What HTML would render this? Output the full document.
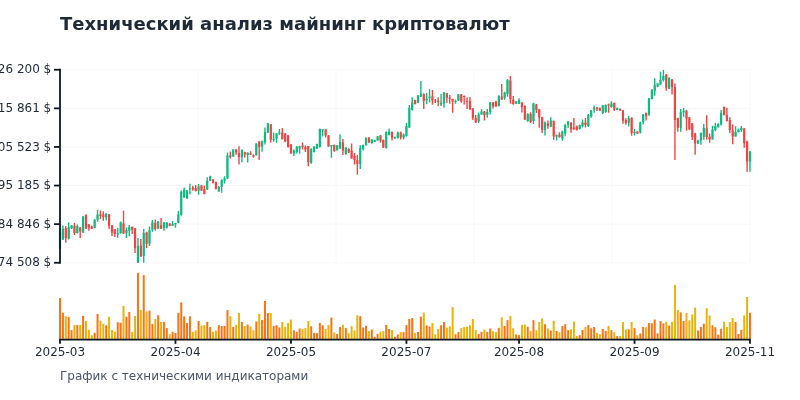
<!DOCTYPE html><html lang="ru"><head><meta charset="utf-8"><title>Технический анализ майнинг криптовалют</title>
<style>html,body{margin:0;padding:0;background:#fff}svg{display:block;will-change:transform}text{font-family:"DejaVu Sans","Liberation Sans",sans-serif}</style></head><body>
<svg width="800" height="400" viewBox="0 0 800 400">
<rect width="800" height="400" fill="#fff"/>
<text x="60" y="30" font-size="18" font-weight="bold" fill="#1f2937">Технический анализ майнинг криптовалют</text>
<g stroke="#f3f4f6" stroke-width="1" opacity="0.7"><line x1="60" x2="750" y1="69.75" y2="69.75"/><line x1="60" x2="750" y1="108.35" y2="108.35"/><line x1="60" x2="750" y1="146.95" y2="146.95"/><line x1="60" x2="750" y1="185.55" y2="185.55"/><line x1="60" x2="750" y1="224.15" y2="224.15"/><line x1="60" x2="750" y1="262.75" y2="262.75"/><line x1="60" x2="60" y1="69.75" y2="262.75"/><line x1="198" x2="198" y1="69.75" y2="262.75"/><line x1="336" x2="336" y1="69.75" y2="262.75"/><line x1="474" x2="474" y1="69.75" y2="262.75"/><line x1="612" x2="612" y1="69.75" y2="262.75"/><line x1="750" x2="750" y1="69.75" y2="262.75"/></g>
<g><rect x="59.00" y="298.00" width="2" height="41.75" fill="#f97316"/><rect x="61.89" y="312.75" width="2" height="27.00" fill="#f97316"/><rect x="64.77" y="316.25" width="2" height="23.50" fill="#eab308"/><rect x="67.66" y="317.00" width="2" height="22.75" fill="#f97316"/><rect x="70.55" y="330.10" width="2" height="9.65" fill="#f97316"/><rect x="73.44" y="325.00" width="2" height="14.75" fill="#eab308"/><rect x="76.32" y="325.10" width="2" height="14.65" fill="#f97316"/><rect x="79.21" y="325.00" width="2" height="14.75" fill="#eab308"/><rect x="82.10" y="315.90" width="2" height="23.85" fill="#f97316"/><rect x="84.98" y="321.00" width="2" height="18.75" fill="#eab308"/><rect x="87.87" y="329.60" width="2" height="10.15" fill="#eab308"/><rect x="90.76" y="335.25" width="2" height="4.50" fill="#eab308"/><rect x="93.64" y="332.75" width="2" height="7.00" fill="#f97316"/><rect x="96.53" y="314.00" width="2" height="25.75" fill="#f97316"/><rect x="99.42" y="320.60" width="2" height="19.15" fill="#eab308"/><rect x="102.31" y="324.00" width="2" height="15.75" fill="#eab308"/><rect x="105.19" y="325.25" width="2" height="14.50" fill="#f97316"/><rect x="108.08" y="316.75" width="2" height="23.00" fill="#eab308"/><rect x="110.97" y="330.00" width="2" height="9.75" fill="#eab308"/><rect x="113.85" y="331.60" width="2" height="8.15" fill="#eab308"/><rect x="116.74" y="322.25" width="2" height="17.50" fill="#f97316"/><rect x="119.63" y="322.75" width="2" height="17.00" fill="#f97316"/><rect x="122.51" y="305.90" width="2" height="33.85" fill="#eab308"/><rect x="125.40" y="316.75" width="2" height="23.00" fill="#f97316"/><rect x="128.29" y="312.00" width="2" height="27.75" fill="#f97316"/><rect x="131.18" y="332.00" width="2" height="7.75" fill="#eab308"/><rect x="134.06" y="316.00" width="2" height="23.75" fill="#eab308"/><rect x="136.95" y="272.80" width="2" height="66.95" fill="#f97316"/><rect x="139.84" y="309.90" width="2" height="29.85" fill="#eab308"/><rect x="142.72" y="275.20" width="2" height="64.55" fill="#f97316"/><rect x="145.61" y="311.50" width="2" height="28.25" fill="#eab308"/><rect x="148.50" y="310.60" width="2" height="29.15" fill="#f97316"/><rect x="151.38" y="324.10" width="2" height="15.65" fill="#f97316"/><rect x="154.27" y="319.00" width="2" height="20.75" fill="#eab308"/><rect x="157.16" y="315.25" width="2" height="24.50" fill="#f97316"/><rect x="160.05" y="322.00" width="2" height="17.75" fill="#eab308"/><rect x="162.93" y="322.00" width="2" height="17.75" fill="#f97316"/><rect x="165.82" y="328.10" width="2" height="11.65" fill="#f97316"/><rect x="168.71" y="334.25" width="2" height="5.50" fill="#eab308"/><rect x="171.59" y="331.75" width="2" height="8.00" fill="#f97316"/><rect x="174.48" y="333.00" width="2" height="6.75" fill="#f97316"/><rect x="177.37" y="312.75" width="2" height="27.00" fill="#f97316"/><rect x="180.26" y="302.40" width="2" height="37.35" fill="#f97316"/><rect x="183.14" y="316.50" width="2" height="23.25" fill="#f97316"/><rect x="186.03" y="323.00" width="2" height="16.75" fill="#f97316"/><rect x="188.92" y="316.25" width="2" height="23.50" fill="#f97316"/><rect x="191.80" y="332.00" width="2" height="7.75" fill="#eab308"/><rect x="194.69" y="330.25" width="2" height="9.50" fill="#eab308"/><rect x="197.58" y="321.00" width="2" height="18.75" fill="#f97316"/><rect x="200.46" y="325.50" width="2" height="14.25" fill="#eab308"/><rect x="203.35" y="325.10" width="2" height="14.65" fill="#eab308"/><rect x="206.24" y="321.75" width="2" height="18.00" fill="#f97316"/><rect x="209.13" y="327.10" width="2" height="12.65" fill="#f97316"/><rect x="212.01" y="331.75" width="2" height="8.00" fill="#eab308"/><rect x="214.90" y="330.50" width="2" height="9.25" fill="#eab308"/><rect x="217.79" y="325.10" width="2" height="14.65" fill="#f97316"/><rect x="220.67" y="326.10" width="2" height="13.65" fill="#f97316"/><rect x="223.56" y="325.90" width="2" height="13.85" fill="#f97316"/><rect x="226.45" y="310.10" width="2" height="29.65" fill="#f97316"/><rect x="229.33" y="316.25" width="2" height="23.50" fill="#eab308"/><rect x="232.22" y="327.00" width="2" height="12.75" fill="#f97316"/><rect x="235.11" y="324.60" width="2" height="15.15" fill="#eab308"/><rect x="238.00" y="313.00" width="2" height="26.75" fill="#eab308"/><rect x="240.88" y="322.00" width="2" height="17.75" fill="#f97316"/><rect x="243.77" y="326.00" width="2" height="13.75" fill="#eab308"/><rect x="246.66" y="324.60" width="2" height="15.15" fill="#f97316"/><rect x="249.54" y="326.50" width="2" height="13.25" fill="#eab308"/><rect x="252.43" y="330.25" width="2" height="9.50" fill="#eab308"/><rect x="255.32" y="321.50" width="2" height="18.25" fill="#f97316"/><rect x="258.21" y="314.00" width="2" height="25.75" fill="#eab308"/><rect x="261.09" y="319.90" width="2" height="19.85" fill="#f97316"/><rect x="263.98" y="300.90" width="2" height="38.85" fill="#f97316"/><rect x="266.87" y="313.00" width="2" height="26.75" fill="#f97316"/><rect x="269.75" y="313.00" width="2" height="26.75" fill="#eab308"/><rect x="272.64" y="325.90" width="2" height="13.85" fill="#f97316"/><rect x="275.53" y="325.10" width="2" height="14.65" fill="#f97316"/><rect x="278.41" y="327.50" width="2" height="12.25" fill="#f97316"/><rect x="281.30" y="322.00" width="2" height="17.75" fill="#eab308"/><rect x="284.19" y="326.75" width="2" height="13.00" fill="#eab308"/><rect x="287.08" y="323.00" width="2" height="16.75" fill="#eab308"/><rect x="289.96" y="319.60" width="2" height="20.15" fill="#eab308"/><rect x="292.85" y="330.25" width="2" height="9.50" fill="#f97316"/><rect x="295.74" y="331.90" width="2" height="7.85" fill="#f97316"/><rect x="298.62" y="328.50" width="2" height="11.25" fill="#f97316"/><rect x="301.51" y="329.00" width="2" height="10.75" fill="#eab308"/><rect x="304.40" y="328.10" width="2" height="11.65" fill="#eab308"/><rect x="307.28" y="321.00" width="2" height="18.75" fill="#eab308"/><rect x="310.17" y="326.25" width="2" height="13.50" fill="#f97316"/><rect x="313.06" y="332.90" width="2" height="6.85" fill="#f97316"/><rect x="315.95" y="333.10" width="2" height="6.65" fill="#f97316"/><rect x="318.83" y="323.00" width="2" height="16.75" fill="#f97316"/><rect x="321.72" y="325.40" width="2" height="14.35" fill="#f97316"/><rect x="324.61" y="329.00" width="2" height="10.75" fill="#eab308"/><rect x="327.49" y="325.00" width="2" height="14.75" fill="#eab308"/><rect x="330.38" y="317.60" width="2" height="22.15" fill="#f97316"/><rect x="333.27" y="332.40" width="2" height="7.35" fill="#eab308"/><rect x="336.15" y="334.00" width="2" height="5.75" fill="#f97316"/><rect x="339.04" y="327.10" width="2" height="12.65" fill="#f97316"/><rect x="341.93" y="324.75" width="2" height="15.00" fill="#eab308"/><rect x="344.82" y="328.10" width="2" height="11.65" fill="#f97316"/><rect x="347.70" y="333.25" width="2" height="6.50" fill="#eab308"/><rect x="350.59" y="326.10" width="2" height="13.65" fill="#eab308"/><rect x="353.48" y="330.50" width="2" height="9.25" fill="#eab308"/><rect x="356.36" y="315.25" width="2" height="24.50" fill="#eab308"/><rect x="359.25" y="316.25" width="2" height="23.50" fill="#f97316"/><rect x="362.14" y="327.50" width="2" height="12.25" fill="#f97316"/><rect x="365.03" y="325.75" width="2" height="14.00" fill="#f97316"/><rect x="367.91" y="331.00" width="2" height="8.75" fill="#eab308"/><rect x="370.80" y="329.50" width="2" height="10.25" fill="#f97316"/><rect x="373.69" y="337.00" width="2" height="2.75" fill="#f97316"/><rect x="376.57" y="334.00" width="2" height="5.75" fill="#f97316"/><rect x="379.46" y="331.75" width="2" height="8.00" fill="#eab308"/><rect x="382.35" y="331.10" width="2" height="8.65" fill="#eab308"/><rect x="385.23" y="325.00" width="2" height="14.75" fill="#f97316"/><rect x="388.12" y="329.00" width="2" height="10.75" fill="#f97316"/><rect x="391.01" y="330.00" width="2" height="9.75" fill="#eab308"/><rect x="393.90" y="336.75" width="2" height="3.00" fill="#f97316"/><rect x="396.78" y="334.50" width="2" height="5.25" fill="#f97316"/><rect x="399.67" y="332.10" width="2" height="7.65" fill="#eab308"/><rect x="402.56" y="332.10" width="2" height="7.65" fill="#f97316"/><rect x="405.44" y="325.10" width="2" height="14.65" fill="#f97316"/><rect x="408.33" y="318.90" width="2" height="20.85" fill="#f97316"/><rect x="411.22" y="318.00" width="2" height="21.75" fill="#f97316"/><rect x="414.10" y="332.90" width="2" height="6.85" fill="#eab308"/><rect x="416.99" y="332.00" width="2" height="7.75" fill="#f97316"/><rect x="419.88" y="316.75" width="2" height="23.00" fill="#f97316"/><rect x="422.77" y="312.60" width="2" height="27.15" fill="#eab308"/><rect x="425.65" y="325.40" width="2" height="14.35" fill="#f97316"/><rect x="428.54" y="326.50" width="2" height="13.25" fill="#f97316"/><rect x="431.43" y="323.00" width="2" height="16.75" fill="#eab308"/><rect x="434.31" y="334.25" width="2" height="5.50" fill="#eab308"/><rect x="437.20" y="329.00" width="2" height="10.75" fill="#eab308"/><rect x="440.09" y="325.25" width="2" height="14.50" fill="#f97316"/><rect x="442.97" y="322.00" width="2" height="17.75" fill="#f97316"/><rect x="445.86" y="327.60" width="2" height="12.15" fill="#eab308"/><rect x="448.75" y="326.25" width="2" height="13.50" fill="#eab308"/><rect x="451.64" y="307.10" width="2" height="32.65" fill="#eab308"/><rect x="454.52" y="334.25" width="2" height="5.50" fill="#f97316"/><rect x="457.41" y="332.10" width="2" height="7.65" fill="#f97316"/><rect x="460.30" y="328.10" width="2" height="11.65" fill="#eab308"/><rect x="463.18" y="327.10" width="2" height="12.65" fill="#eab308"/><rect x="466.07" y="326.75" width="2" height="13.00" fill="#eab308"/><rect x="468.96" y="325.25" width="2" height="14.50" fill="#eab308"/><rect x="471.85" y="319.00" width="2" height="20.75" fill="#eab308"/><rect x="474.73" y="330.10" width="2" height="9.65" fill="#eab308"/><rect x="477.62" y="334.00" width="2" height="5.75" fill="#f97316"/><rect x="480.51" y="331.90" width="2" height="7.85" fill="#f97316"/><rect x="483.39" y="329.60" width="2" height="10.15" fill="#eab308"/><rect x="486.28" y="331.90" width="2" height="7.85" fill="#f97316"/><rect x="489.17" y="328.50" width="2" height="11.25" fill="#f97316"/><rect x="492.05" y="331.25" width="2" height="8.50" fill="#eab308"/><rect x="494.94" y="332.10" width="2" height="7.65" fill="#eab308"/><rect x="497.83" y="327.90" width="2" height="11.85" fill="#f97316"/><rect x="500.72" y="317.25" width="2" height="22.50" fill="#eab308"/><rect x="503.60" y="326.00" width="2" height="13.75" fill="#f97316"/><rect x="506.49" y="320.10" width="2" height="19.65" fill="#f97316"/><rect x="509.38" y="316.00" width="2" height="23.75" fill="#eab308"/><rect x="512.26" y="328.25" width="2" height="11.50" fill="#eab308"/><rect x="515.15" y="334.50" width="2" height="5.25" fill="#f97316"/><rect x="518.04" y="335.10" width="2" height="4.65" fill="#f97316"/><rect x="520.92" y="325.00" width="2" height="14.75" fill="#eab308"/><rect x="523.81" y="324.50" width="2" height="15.25" fill="#eab308"/><rect x="526.70" y="326.75" width="2" height="13.00" fill="#f97316"/><rect x="529.59" y="331.00" width="2" height="8.75" fill="#eab308"/><rect x="532.47" y="320.10" width="2" height="19.65" fill="#f97316"/><rect x="535.36" y="330.25" width="2" height="9.50" fill="#eab308"/><rect x="538.25" y="322.00" width="2" height="17.75" fill="#eab308"/><rect x="541.13" y="318.40" width="2" height="21.35" fill="#eab308"/><rect x="544.02" y="324.25" width="2" height="15.50" fill="#f97316"/><rect x="546.91" y="328.50" width="2" height="11.25" fill="#eab308"/><rect x="549.79" y="330.50" width="2" height="9.25" fill="#f97316"/><rect x="552.68" y="320.75" width="2" height="19.00" fill="#eab308"/><rect x="555.57" y="331.00" width="2" height="8.75" fill="#f97316"/><rect x="558.46" y="332.25" width="2" height="7.50" fill="#eab308"/><rect x="561.34" y="326.10" width="2" height="13.65" fill="#f97316"/><rect x="564.23" y="324.10" width="2" height="15.65" fill="#f97316"/><rect x="567.12" y="330.10" width="2" height="9.65" fill="#f97316"/><rect x="570.00" y="329.40" width="2" height="10.35" fill="#eab308"/><rect x="572.89" y="321.50" width="2" height="18.25" fill="#eab308"/><rect x="575.78" y="336.00" width="2" height="3.75" fill="#eab308"/><rect x="578.67" y="335.10" width="2" height="4.65" fill="#f97316"/><rect x="581.55" y="330.00" width="2" height="9.75" fill="#f97316"/><rect x="584.44" y="327.00" width="2" height="12.75" fill="#eab308"/><rect x="587.33" y="325.10" width="2" height="14.65" fill="#f97316"/><rect x="590.21" y="328.25" width="2" height="11.50" fill="#f97316"/><rect x="593.10" y="327.00" width="2" height="12.75" fill="#f97316"/><rect x="595.99" y="333.00" width="2" height="6.75" fill="#eab308"/><rect x="598.87" y="334.25" width="2" height="5.50" fill="#eab308"/><rect x="601.76" y="329.00" width="2" height="10.75" fill="#f97316"/><rect x="604.65" y="331.00" width="2" height="8.75" fill="#f97316"/><rect x="607.54" y="325.90" width="2" height="13.85" fill="#eab308"/><rect x="610.42" y="330.10" width="2" height="9.65" fill="#f97316"/><rect x="613.31" y="332.25" width="2" height="7.50" fill="#eab308"/><rect x="616.20" y="336.10" width="2" height="3.65" fill="#f97316"/><rect x="619.08" y="336.10" width="2" height="3.65" fill="#eab308"/><rect x="621.97" y="322.10" width="2" height="17.65" fill="#eab308"/><rect x="624.86" y="329.40" width="2" height="10.35" fill="#eab308"/><rect x="627.74" y="329.25" width="2" height="10.50" fill="#f97316"/><rect x="630.63" y="322.00" width="2" height="17.75" fill="#eab308"/><rect x="633.52" y="328.00" width="2" height="11.75" fill="#f97316"/><rect x="636.41" y="335.25" width="2" height="4.50" fill="#eab308"/><rect x="639.29" y="333.50" width="2" height="6.25" fill="#f97316"/><rect x="642.18" y="327.00" width="2" height="12.75" fill="#f97316"/><rect x="645.07" y="327.25" width="2" height="12.50" fill="#eab308"/><rect x="647.95" y="323.00" width="2" height="16.75" fill="#f97316"/><rect x="650.84" y="323.25" width="2" height="16.50" fill="#f97316"/><rect x="653.73" y="319.50" width="2" height="20.25" fill="#f97316"/><rect x="656.62" y="333.25" width="2" height="6.50" fill="#f97316"/><rect x="659.50" y="321.10" width="2" height="18.65" fill="#f97316"/><rect x="662.39" y="323.50" width="2" height="16.25" fill="#f97316"/><rect x="665.28" y="321.75" width="2" height="18.00" fill="#eab308"/><rect x="668.16" y="325.50" width="2" height="14.25" fill="#f97316"/><rect x="671.05" y="321.75" width="2" height="18.00" fill="#eab308"/><rect x="673.94" y="285.00" width="2" height="54.75" fill="#eab308"/><rect x="676.82" y="309.90" width="2" height="29.85" fill="#eab308"/><rect x="679.71" y="312.40" width="2" height="27.35" fill="#f97316"/><rect x="682.60" y="321.00" width="2" height="18.75" fill="#f97316"/><rect x="685.49" y="313.00" width="2" height="26.75" fill="#eab308"/><rect x="688.37" y="320.25" width="2" height="19.50" fill="#eab308"/><rect x="691.26" y="314.50" width="2" height="25.25" fill="#eab308"/><rect x="694.15" y="307.60" width="2" height="32.15" fill="#eab308"/><rect x="697.03" y="330.50" width="2" height="9.25" fill="#f97316"/><rect x="699.92" y="327.00" width="2" height="12.75" fill="#f97316"/><rect x="702.81" y="323.75" width="2" height="16.00" fill="#f97316"/><rect x="705.69" y="308.25" width="2" height="31.50" fill="#eab308"/><rect x="708.58" y="315.50" width="2" height="24.25" fill="#eab308"/><rect x="711.47" y="325.25" width="2" height="14.50" fill="#f97316"/><rect x="714.36" y="327.25" width="2" height="12.50" fill="#f97316"/><rect x="717.24" y="334.75" width="2" height="5.00" fill="#f97316"/><rect x="720.13" y="328.75" width="2" height="11.00" fill="#f97316"/><rect x="723.02" y="321.75" width="2" height="18.00" fill="#eab308"/><rect x="725.90" y="327.00" width="2" height="12.75" fill="#eab308"/><rect x="728.79" y="322.10" width="2" height="17.65" fill="#eab308"/><rect x="731.68" y="318.00" width="2" height="21.75" fill="#eab308"/><rect x="734.56" y="322.00" width="2" height="17.75" fill="#f97316"/><rect x="737.45" y="334.00" width="2" height="5.75" fill="#f97316"/><rect x="740.34" y="329.75" width="2" height="10.00" fill="#f97316"/><rect x="743.23" y="315.50" width="2" height="24.25" fill="#eab308"/><rect x="746.11" y="297.00" width="2" height="42.75" fill="#eab308"/><rect x="749.00" y="312.75" width="2" height="27.00" fill="#f97316"/></g>
<clipPath id="cp"><rect x="58" y="69.75" width="694" height="193.0"/></clipPath>
<g clip-path="url(#cp)"><g stroke-width="1.4"><line x1="60.00" x2="60.00" y1="229.00" y2="249.00" stroke="#10b981"/><line x1="62.89" x2="62.89" y1="225.50" y2="240.00" stroke="#10b981"/><line x1="65.77" x2="65.77" y1="226.00" y2="242.80" stroke="#ef4444"/><line x1="68.66" x2="68.66" y1="222.50" y2="239.50" stroke="#10b981"/><line x1="71.55" x2="71.55" y1="225.00" y2="229.00" stroke="#10b981"/><line x1="74.44" x2="74.44" y1="223.00" y2="235.00" stroke="#ef4444"/><line x1="77.32" x2="77.32" y1="224.50" y2="233.50" stroke="#10b981"/><line x1="80.21" x2="80.21" y1="227.00" y2="238.00" stroke="#ef4444"/><line x1="83.10" x2="83.10" y1="216.00" y2="233.00" stroke="#10b981"/><line x1="85.98" x2="85.98" y1="214.20" y2="229.00" stroke="#ef4444"/><line x1="88.87" x2="88.87" y1="224.00" y2="230.80" stroke="#ef4444"/><line x1="91.76" x2="91.76" y1="225.50" y2="229.00" stroke="#ef4444"/><line x1="94.64" x2="94.64" y1="219.20" y2="228.20" stroke="#10b981"/><line x1="97.53" x2="97.53" y1="209.75" y2="221.80" stroke="#10b981"/><line x1="100.42" x2="100.42" y1="210.50" y2="219.00" stroke="#ef4444"/><line x1="103.31" x2="103.31" y1="211.20" y2="220.80" stroke="#ef4444"/><line x1="106.19" x2="106.19" y1="213.00" y2="220.50" stroke="#10b981"/><line x1="109.08" x2="109.08" y1="214.00" y2="229.00" stroke="#ef4444"/><line x1="111.97" x2="111.97" y1="225.00" y2="236.00" stroke="#ef4444"/><line x1="114.85" x2="114.85" y1="229.00" y2="237.00" stroke="#ef4444"/><line x1="117.74" x2="117.74" y1="227.80" y2="237.80" stroke="#10b981"/><line x1="120.63" x2="120.63" y1="221.50" y2="233.50" stroke="#10b981"/><line x1="123.51" x2="123.51" y1="210.80" y2="234.00" stroke="#ef4444"/><line x1="126.40" x2="126.40" y1="227.50" y2="238.00" stroke="#10b981"/><line x1="129.29" x2="129.29" y1="225.00" y2="236.20" stroke="#10b981"/><line x1="132.18" x2="132.18" y1="226.50" y2="234.00" stroke="#ef4444"/><line x1="135.06" x2="135.06" y1="228.00" y2="253.00" stroke="#ef4444"/><line x1="137.95" x2="137.95" y1="238.00" y2="263.00" stroke="#10b981"/><line x1="140.84" x2="140.84" y1="239.00" y2="256.80" stroke="#ef4444"/><line x1="143.72" x2="143.72" y1="229.00" y2="263.00" stroke="#10b981"/><line x1="146.61" x2="146.61" y1="231.80" y2="248.00" stroke="#ef4444"/><line x1="149.50" x2="149.50" y1="226.50" y2="246.00" stroke="#10b981"/><line x1="152.38" x2="152.38" y1="220.00" y2="231.80" stroke="#10b981"/><line x1="155.27" x2="155.27" y1="219.50" y2="230.80" stroke="#ef4444"/><line x1="158.16" x2="158.16" y1="221.00" y2="229.00" stroke="#10b981"/><line x1="161.05" x2="161.05" y1="218.00" y2="229.00" stroke="#ef4444"/><line x1="163.93" x2="163.93" y1="222.00" y2="230.80" stroke="#10b981"/><line x1="166.82" x2="166.82" y1="222.00" y2="228.50" stroke="#10b981"/><line x1="169.71" x2="169.71" y1="223.20" y2="226.20" stroke="#ef4444"/><line x1="172.59" x2="172.59" y1="221.00" y2="226.00" stroke="#10b981"/><line x1="175.48" x2="175.48" y1="222.80" y2="227.80" stroke="#10b981"/><line x1="178.37" x2="178.37" y1="211.00" y2="223.20" stroke="#10b981"/><line x1="181.26" x2="181.26" y1="190.50" y2="215.80" stroke="#10b981"/><line x1="184.14" x2="184.14" y1="187.50" y2="197.80" stroke="#10b981"/><line x1="187.03" x2="187.03" y1="190.00" y2="198.80" stroke="#10b981"/><line x1="189.92" x2="189.92" y1="183.80" y2="194.50" stroke="#10b981"/><line x1="192.80" x2="192.80" y1="185.80" y2="190.80" stroke="#ef4444"/><line x1="195.69" x2="195.69" y1="185.00" y2="191.50" stroke="#ef4444"/><line x1="198.58" x2="198.58" y1="184.00" y2="194.80" stroke="#10b981"/><line x1="201.46" x2="201.46" y1="184.80" y2="191.00" stroke="#ef4444"/><line x1="204.35" x2="204.35" y1="185.50" y2="194.20" stroke="#ef4444"/><line x1="207.24" x2="207.24" y1="177.20" y2="190.00" stroke="#10b981"/><line x1="210.13" x2="210.13" y1="175.80" y2="181.00" stroke="#10b981"/><line x1="213.01" x2="213.01" y1="179.00" y2="183.50" stroke="#ef4444"/><line x1="215.90" x2="215.90" y1="181.50" y2="189.50" stroke="#ef4444"/><line x1="218.79" x2="218.79" y1="186.00" y2="191.80" stroke="#10b981"/><line x1="221.67" x2="221.67" y1="179.20" y2="192.80" stroke="#10b981"/><line x1="224.56" x2="224.56" y1="176.20" y2="183.50" stroke="#10b981"/><line x1="227.45" x2="227.45" y1="152.50" y2="179.00" stroke="#10b981"/><line x1="230.33" x2="230.33" y1="151.50" y2="158.50" stroke="#ef4444"/><line x1="233.22" x2="233.22" y1="149.20" y2="156.80" stroke="#10b981"/><line x1="236.11" x2="236.11" y1="149.20" y2="154.80" stroke="#ef4444"/><line x1="239.00" x2="239.00" y1="146.20" y2="164.50" stroke="#ef4444"/><line x1="241.88" x2="241.88" y1="149.50" y2="162.20" stroke="#10b981"/><line x1="244.77" x2="244.77" y1="151.80" y2="157.50" stroke="#ef4444"/><line x1="247.66" x2="247.66" y1="152.20" y2="162.50" stroke="#10b981"/><line x1="250.54" x2="250.54" y1="151.20" y2="155.00" stroke="#ef4444"/><line x1="253.43" x2="253.43" y1="154.20" y2="157.80" stroke="#ef4444"/><line x1="256.32" x2="256.32" y1="143.20" y2="155.80" stroke="#10b981"/><line x1="259.21" x2="259.21" y1="141.00" y2="160.00" stroke="#ef4444"/><line x1="262.09" x2="262.09" y1="140.50" y2="151.80" stroke="#10b981"/><line x1="264.98" x2="264.98" y1="127.50" y2="144.50" stroke="#10b981"/><line x1="267.87" x2="267.87" y1="123.00" y2="133.00" stroke="#10b981"/><line x1="270.75" x2="270.75" y1="124.00" y2="142.50" stroke="#ef4444"/><line x1="273.64" x2="273.64" y1="132.50" y2="141.80" stroke="#10b981"/><line x1="276.53" x2="276.53" y1="133.00" y2="142.80" stroke="#10b981"/><line x1="279.41" x2="279.41" y1="129.00" y2="135.00" stroke="#10b981"/><line x1="282.30" x2="282.30" y1="128.00" y2="139.50" stroke="#ef4444"/><line x1="285.19" x2="285.19" y1="133.00" y2="142.20" stroke="#ef4444"/><line x1="288.08" x2="288.08" y1="135.00" y2="147.50" stroke="#ef4444"/><line x1="290.96" x2="290.96" y1="144.00" y2="153.80" stroke="#ef4444"/><line x1="293.85" x2="293.85" y1="149.50" y2="156.00" stroke="#10b981"/><line x1="296.74" x2="296.74" y1="146.20" y2="153.50" stroke="#10b981"/><line x1="299.62" x2="299.62" y1="145.80" y2="153.80" stroke="#10b981"/><line x1="302.51" x2="302.51" y1="142.50" y2="149.50" stroke="#ef4444"/><line x1="305.40" x2="305.40" y1="145.50" y2="152.00" stroke="#ef4444"/><line x1="308.28" x2="308.28" y1="146.00" y2="166.20" stroke="#ef4444"/><line x1="311.17" x2="311.17" y1="148.20" y2="163.80" stroke="#10b981"/><line x1="314.06" x2="314.06" y1="146.20" y2="152.50" stroke="#10b981"/><line x1="316.95" x2="316.95" y1="143.80" y2="149.00" stroke="#10b981"/><line x1="319.83" x2="319.83" y1="128.50" y2="147.50" stroke="#10b981"/><line x1="322.72" x2="322.72" y1="129.20" y2="136.50" stroke="#10b981"/><line x1="325.61" x2="325.61" y1="129.20" y2="137.50" stroke="#ef4444"/><line x1="328.49" x2="328.49" y1="135.00" y2="146.80" stroke="#ef4444"/><line x1="331.38" x2="331.38" y1="145.00" y2="157.80" stroke="#10b981"/><line x1="334.27" x2="334.27" y1="144.50" y2="151.80" stroke="#ef4444"/><line x1="337.15" x2="337.15" y1="145.00" y2="150.80" stroke="#10b981"/><line x1="340.04" x2="340.04" y1="134.50" y2="148.80" stroke="#10b981"/><line x1="342.93" x2="342.93" y1="139.00" y2="155.00" stroke="#ef4444"/><line x1="345.82" x2="345.82" y1="147.20" y2="154.80" stroke="#10b981"/><line x1="348.70" x2="348.70" y1="148.20" y2="153.00" stroke="#ef4444"/><line x1="351.59" x2="351.59" y1="143.50" y2="158.80" stroke="#ef4444"/><line x1="354.48" x2="354.48" y1="153.00" y2="164.50" stroke="#ef4444"/><line x1="357.36" x2="357.36" y1="155.00" y2="174.50" stroke="#ef4444"/><line x1="360.25" x2="360.25" y1="145.20" y2="169.00" stroke="#10b981"/><line x1="363.14" x2="363.14" y1="144.50" y2="150.50" stroke="#10b981"/><line x1="366.03" x2="366.03" y1="137.20" y2="145.80" stroke="#10b981"/><line x1="368.91" x2="368.91" y1="137.20" y2="143.00" stroke="#ef4444"/><line x1="371.80" x2="371.80" y1="139.00" y2="143.80" stroke="#10b981"/><line x1="374.69" x2="374.69" y1="139.80" y2="142.00" stroke="#10b981"/><line x1="377.57" x2="377.57" y1="136.00" y2="140.80" stroke="#10b981"/><line x1="380.46" x2="380.46" y1="135.00" y2="142.50" stroke="#ef4444"/><line x1="383.35" x2="383.35" y1="139.50" y2="148.00" stroke="#ef4444"/><line x1="386.23" x2="386.23" y1="131.50" y2="148.50" stroke="#10b981"/><line x1="389.12" x2="389.12" y1="128.50" y2="135.50" stroke="#10b981"/><line x1="392.01" x2="392.01" y1="131.50" y2="140.50" stroke="#ef4444"/><line x1="394.90" x2="394.90" y1="136.50" y2="138.80" stroke="#10b981"/><line x1="397.78" x2="397.78" y1="131.50" y2="138.50" stroke="#10b981"/><line x1="400.67" x2="400.67" y1="131.50" y2="139.50" stroke="#ef4444"/><line x1="403.56" x2="403.56" y1="133.50" y2="139.50" stroke="#10b981"/><line x1="406.44" x2="406.44" y1="123.00" y2="136.50" stroke="#10b981"/><line x1="409.33" x2="409.33" y1="105.00" y2="128.00" stroke="#10b981"/><line x1="412.22" x2="412.22" y1="97.20" y2="110.50" stroke="#10b981"/><line x1="415.10" x2="415.10" y1="99.80" y2="104.50" stroke="#ef4444"/><line x1="417.99" x2="417.99" y1="95.00" y2="103.20" stroke="#10b981"/><line x1="420.88" x2="420.88" y1="81.00" y2="96.80" stroke="#10b981"/><line x1="423.77" x2="423.77" y1="93.20" y2="109.00" stroke="#ef4444"/><line x1="426.65" x2="426.65" y1="93.00" y2="104.00" stroke="#10b981"/><line x1="429.54" x2="429.54" y1="89.20" y2="102.50" stroke="#10b981"/><line x1="432.43" x2="432.43" y1="90.00" y2="104.80" stroke="#ef4444"/><line x1="435.31" x2="435.31" y1="99.00" y2="103.00" stroke="#ef4444"/><line x1="438.20" x2="438.20" y1="97.20" y2="106.20" stroke="#ef4444"/><line x1="441.09" x2="441.09" y1="94.00" y2="106.00" stroke="#10b981"/><line x1="443.97" x2="443.97" y1="92.00" y2="107.80" stroke="#10b981"/><line x1="446.86" x2="446.86" y1="92.80" y2="103.00" stroke="#ef4444"/><line x1="449.75" x2="449.75" y1="95.00" y2="103.80" stroke="#ef4444"/><line x1="452.64" x2="452.64" y1="98.80" y2="112.80" stroke="#ef4444"/><line x1="455.52" x2="455.52" y1="99.50" y2="103.80" stroke="#10b981"/><line x1="458.41" x2="458.41" y1="94.00" y2="101.00" stroke="#10b981"/><line x1="461.30" x2="461.30" y1="94.00" y2="102.80" stroke="#ef4444"/><line x1="464.18" x2="464.18" y1="95.50" y2="104.50" stroke="#ef4444"/><line x1="467.07" x2="467.07" y1="97.50" y2="109.00" stroke="#ef4444"/><line x1="469.96" x2="469.96" y1="97.00" y2="109.80" stroke="#ef4444"/><line x1="472.85" x2="472.85" y1="108.00" y2="120.00" stroke="#ef4444"/><line x1="475.73" x2="475.73" y1="115.00" y2="123.00" stroke="#ef4444"/><line x1="478.62" x2="478.62" y1="112.50" y2="123.00" stroke="#10b981"/><line x1="481.51" x2="481.51" y1="109.00" y2="114.80" stroke="#10b981"/><line x1="484.39" x2="484.39" y1="111.00" y2="120.50" stroke="#ef4444"/><line x1="487.28" x2="487.28" y1="109.00" y2="117.80" stroke="#10b981"/><line x1="490.17" x2="490.17" y1="102.00" y2="114.50" stroke="#10b981"/><line x1="493.05" x2="493.05" y1="102.00" y2="108.50" stroke="#ef4444"/><line x1="495.94" x2="495.94" y1="100.80" y2="106.80" stroke="#ef4444"/><line x1="498.83" x2="498.83" y1="95.20" y2="106.50" stroke="#10b981"/><line x1="501.72" x2="501.72" y1="84.00" y2="100.00" stroke="#ef4444"/><line x1="504.60" x2="504.60" y1="91.80" y2="99.80" stroke="#10b981"/><line x1="507.49" x2="507.49" y1="79.00" y2="96.80" stroke="#10b981"/><line x1="510.38" x2="510.38" y1="76.00" y2="103.80" stroke="#ef4444"/><line x1="513.26" x2="513.26" y1="96.00" y2="104.80" stroke="#ef4444"/><line x1="516.15" x2="516.15" y1="101.00" y2="103.80" stroke="#10b981"/><line x1="519.04" x2="519.04" y1="98.20" y2="103.80" stroke="#10b981"/><line x1="521.92" x2="521.92" y1="102.20" y2="112.50" stroke="#ef4444"/><line x1="524.81" x2="524.81" y1="105.20" y2="120.00" stroke="#ef4444"/><line x1="527.70" x2="527.70" y1="113.20" y2="121.80" stroke="#10b981"/><line x1="530.59" x2="530.59" y1="112.20" y2="122.80" stroke="#ef4444"/><line x1="533.47" x2="533.47" y1="102.80" y2="124.00" stroke="#10b981"/><line x1="536.36" x2="536.36" y1="104.00" y2="113.00" stroke="#ef4444"/><line x1="539.25" x2="539.25" y1="109.00" y2="127.80" stroke="#ef4444"/><line x1="542.13" x2="542.13" y1="116.80" y2="133.00" stroke="#ef4444"/><line x1="545.02" x2="545.02" y1="121.50" y2="135.50" stroke="#10b981"/><line x1="547.91" x2="547.91" y1="120.50" y2="128.80" stroke="#ef4444"/><line x1="550.79" x2="550.79" y1="117.20" y2="127.00" stroke="#10b981"/><line x1="553.68" x2="553.68" y1="120.50" y2="139.80" stroke="#ef4444"/><line x1="556.57" x2="556.57" y1="134.50" y2="140.50" stroke="#10b981"/><line x1="559.46" x2="559.46" y1="132.20" y2="137.80" stroke="#ef4444"/><line x1="562.34" x2="562.34" y1="130.80" y2="140.80" stroke="#10b981"/><line x1="565.23" x2="565.23" y1="124.00" y2="136.20" stroke="#10b981"/><line x1="568.12" x2="568.12" y1="121.00" y2="128.00" stroke="#10b981"/><line x1="571.00" x2="571.00" y1="122.00" y2="132.80" stroke="#ef4444"/><line x1="573.89" x2="573.89" y1="118.00" y2="129.50" stroke="#ef4444"/><line x1="576.78" x2="576.78" y1="125.50" y2="130.50" stroke="#ef4444"/><line x1="579.67" x2="579.67" y1="124.50" y2="129.50" stroke="#10b981"/><line x1="582.55" x2="582.55" y1="119.50" y2="127.50" stroke="#10b981"/><line x1="585.44" x2="585.44" y1="118.00" y2="127.50" stroke="#ef4444"/><line x1="588.33" x2="588.33" y1="114.00" y2="127.00" stroke="#10b981"/><line x1="591.21" x2="591.21" y1="110.00" y2="117.80" stroke="#10b981"/><line x1="594.10" x2="594.10" y1="105.50" y2="112.80" stroke="#10b981"/><line x1="596.99" x2="596.99" y1="107.00" y2="111.00" stroke="#ef4444"/><line x1="599.87" x2="599.87" y1="107.50" y2="111.00" stroke="#ef4444"/><line x1="602.76" x2="602.76" y1="105.00" y2="114.00" stroke="#10b981"/><line x1="605.65" x2="605.65" y1="104.50" y2="112.80" stroke="#10b981"/><line x1="608.54" x2="608.54" y1="103.50" y2="112.80" stroke="#ef4444"/><line x1="611.42" x2="611.42" y1="101.20" y2="107.80" stroke="#10b981"/><line x1="614.31" x2="614.31" y1="102.80" y2="111.00" stroke="#ef4444"/><line x1="617.20" x2="617.20" y1="107.50" y2="110.20" stroke="#10b981"/><line x1="620.08" x2="620.08" y1="108.50" y2="110.80" stroke="#ef4444"/><line x1="622.97" x2="622.97" y1="110.00" y2="123.80" stroke="#ef4444"/><line x1="625.86" x2="625.86" y1="118.20" y2="124.80" stroke="#ef4444"/><line x1="628.74" x2="628.74" y1="115.80" y2="126.50" stroke="#10b981"/><line x1="631.63" x2="631.63" y1="117.20" y2="135.80" stroke="#ef4444"/><line x1="634.52" x2="634.52" y1="129.00" y2="135.50" stroke="#10b981"/><line x1="637.41" x2="637.41" y1="131.20" y2="133.80" stroke="#ef4444"/><line x1="640.29" x2="640.29" y1="121.80" y2="133.50" stroke="#10b981"/><line x1="643.18" x2="643.18" y1="114.00" y2="124.50" stroke="#10b981"/><line x1="646.07" x2="646.07" y1="112.50" y2="120.50" stroke="#ef4444"/><line x1="648.95" x2="648.95" y1="98.00" y2="115.80" stroke="#10b981"/><line x1="651.84" x2="651.84" y1="89.00" y2="99.50" stroke="#10b981"/><line x1="654.73" x2="654.73" y1="78.20" y2="95.80" stroke="#10b981"/><line x1="657.62" x2="657.62" y1="83.00" y2="87.20" stroke="#10b981"/><line x1="660.50" x2="660.50" y1="71.80" y2="84.80" stroke="#10b981"/><line x1="663.39" x2="663.39" y1="69.80" y2="81.50" stroke="#10b981"/><line x1="666.28" x2="666.28" y1="74.00" y2="90.80" stroke="#ef4444"/><line x1="669.16" x2="669.16" y1="77.20" y2="89.00" stroke="#10b981"/><line x1="672.05" x2="672.05" y1="79.00" y2="94.50" stroke="#ef4444"/><line x1="674.94" x2="674.94" y1="83.50" y2="160.00" stroke="#ef4444"/><line x1="677.82" x2="677.82" y1="117.80" y2="131.80" stroke="#ef4444"/><line x1="680.71" x2="680.71" y1="109.00" y2="131.80" stroke="#10b981"/><line x1="683.60" x2="683.60" y1="108.00" y2="116.80" stroke="#10b981"/><line x1="686.49" x2="686.49" y1="110.00" y2="130.80" stroke="#ef4444"/><line x1="689.37" x2="689.37" y1="117.00" y2="129.80" stroke="#ef4444"/><line x1="692.26" x2="692.26" y1="123.00" y2="140.00" stroke="#ef4444"/><line x1="695.15" x2="695.15" y1="132.80" y2="154.80" stroke="#ef4444"/><line x1="698.03" x2="698.03" y1="139.80" y2="144.00" stroke="#10b981"/><line x1="700.92" x2="700.92" y1="132.50" y2="144.80" stroke="#10b981"/><line x1="703.81" x2="703.81" y1="124.00" y2="139.80" stroke="#10b981"/><line x1="706.69" x2="706.69" y1="115.20" y2="139.50" stroke="#ef4444"/><line x1="709.58" x2="709.58" y1="133.50" y2="142.80" stroke="#ef4444"/><line x1="712.47" x2="712.47" y1="125.80" y2="139.50" stroke="#10b981"/><line x1="715.36" x2="715.36" y1="122.80" y2="131.20" stroke="#10b981"/><line x1="718.24" x2="718.24" y1="123.20" y2="127.80" stroke="#10b981"/><line x1="721.13" x2="721.13" y1="110.00" y2="125.50" stroke="#10b981"/><line x1="724.02" x2="724.02" y1="106.50" y2="115.50" stroke="#ef4444"/><line x1="726.90" x2="726.90" y1="107.80" y2="121.50" stroke="#ef4444"/><line x1="729.79" x2="729.79" y1="117.20" y2="133.00" stroke="#ef4444"/><line x1="732.68" x2="732.68" y1="124.50" y2="144.20" stroke="#ef4444"/><line x1="735.56" x2="735.56" y1="126.20" y2="136.50" stroke="#10b981"/><line x1="738.45" x2="738.45" y1="128.50" y2="132.50" stroke="#10b981"/><line x1="741.34" x2="741.34" y1="126.00" y2="132.00" stroke="#10b981"/><line x1="744.23" x2="744.23" y1="128.00" y2="147.80" stroke="#ef4444"/><line x1="747.11" x2="747.11" y1="140.80" y2="171.80" stroke="#ef4444"/><line x1="750.00" x2="750.00" y1="151.00" y2="171.80" stroke="#10b981"/></g>
<g><rect x="58.90" y="231.50" width="2.2" height="17.00" fill="#10b981"/><rect x="61.79" y="228.50" width="2.2" height="11.00" fill="#10b981"/><rect x="64.67" y="228.20" width="2.2" height="9.80" fill="#ef4444"/><rect x="67.56" y="227.20" width="2.2" height="11.30" fill="#10b981"/><rect x="70.45" y="225.60" width="2.2" height="2.60" fill="#10b981"/><rect x="73.34" y="225.80" width="2.2" height="7.20" fill="#ef4444"/><rect x="76.22" y="226.00" width="2.2" height="7.00" fill="#10b981"/><rect x="79.11" y="227.50" width="2.2" height="4.00" fill="#ef4444"/><rect x="82.00" y="216.50" width="2.2" height="16.00" fill="#10b981"/><rect x="84.88" y="215.00" width="2.2" height="13.50" fill="#ef4444"/><rect x="87.77" y="224.50" width="2.2" height="3.00" fill="#ef4444"/><rect x="90.66" y="226.50" width="2.2" height="2.30" fill="#ef4444"/><rect x="93.54" y="219.80" width="2.2" height="8.20" fill="#10b981"/><rect x="96.43" y="214.50" width="2.2" height="5.25" fill="#10b981"/><rect x="99.32" y="214.50" width="2.2" height="1.50" fill="#ef4444"/><rect x="102.21" y="214.50" width="2.2" height="2.50" fill="#ef4444"/><rect x="105.09" y="214.00" width="2.2" height="3.50" fill="#10b981"/><rect x="107.98" y="214.50" width="2.2" height="11.30" fill="#ef4444"/><rect x="110.87" y="225.50" width="2.2" height="7.10" fill="#ef4444"/><rect x="113.75" y="229.50" width="2.2" height="4.50" fill="#ef4444"/><rect x="116.64" y="233.00" width="2.2" height="1.20" fill="#10b981"/><rect x="119.53" y="222.50" width="2.2" height="10.50" fill="#10b981"/><rect x="122.41" y="223.50" width="2.2" height="10.00" fill="#ef4444"/><rect x="125.30" y="230.00" width="2.2" height="2.80" fill="#10b981"/><rect x="128.19" y="227.00" width="2.2" height="3.80" fill="#10b981"/><rect x="131.08" y="227.00" width="2.2" height="2.80" fill="#ef4444"/><rect x="133.96" y="228.50" width="2.2" height="19.50" fill="#ef4444"/><rect x="136.85" y="246.00" width="2.2" height="17.00" fill="#10b981"/><rect x="139.74" y="245.50" width="2.2" height="11.00" fill="#ef4444"/><rect x="142.62" y="233.00" width="2.2" height="23.00" fill="#10b981"/><rect x="145.51" y="232.50" width="2.2" height="11.20" fill="#ef4444"/><rect x="148.40" y="230.00" width="2.2" height="13.70" fill="#10b981"/><rect x="151.28" y="222.40" width="2.2" height="7.40" fill="#10b981"/><rect x="154.17" y="223.00" width="2.2" height="6.00" fill="#ef4444"/><rect x="157.06" y="221.60" width="2.2" height="6.80" fill="#10b981"/><rect x="159.95" y="225.20" width="2.2" height="3.30" fill="#ef4444"/><rect x="162.83" y="222.40" width="2.2" height="5.60" fill="#10b981"/><rect x="165.72" y="222.80" width="2.2" height="4.70" fill="#10b981"/><rect x="168.61" y="223.50" width="2.2" height="2.30" fill="#ef4444"/><rect x="171.49" y="223.70" width="2.2" height="1.90" fill="#10b981"/><rect x="174.38" y="223.00" width="2.2" height="1.40" fill="#10b981"/><rect x="177.27" y="214.50" width="2.2" height="8.30" fill="#10b981"/><rect x="180.16" y="191.50" width="2.2" height="23.50" fill="#10b981"/><rect x="183.04" y="190.00" width="2.2" height="7.50" fill="#10b981"/><rect x="185.93" y="190.50" width="2.2" height="8.00" fill="#10b981"/><rect x="188.82" y="188.40" width="2.2" height="1.00" fill="#10b981"/><rect x="191.70" y="187.50" width="2.2" height="2.00" fill="#ef4444"/><rect x="194.59" y="188.00" width="2.2" height="3.00" fill="#ef4444"/><rect x="197.48" y="186.50" width="2.2" height="4.00" fill="#10b981"/><rect x="200.36" y="185.50" width="2.2" height="5.00" fill="#ef4444"/><rect x="203.25" y="189.00" width="2.2" height="5.00" fill="#ef4444"/><rect x="206.14" y="181.00" width="2.2" height="8.50" fill="#10b981"/><rect x="209.03" y="176.50" width="2.2" height="4.00" fill="#10b981"/><rect x="211.91" y="179.50" width="2.2" height="3.50" fill="#ef4444"/><rect x="214.80" y="182.00" width="2.2" height="7.00" fill="#ef4444"/><rect x="217.69" y="187.00" width="2.2" height="4.50" fill="#10b981"/><rect x="220.57" y="180.00" width="2.2" height="7.00" fill="#10b981"/><rect x="223.46" y="178.50" width="2.2" height="2.00" fill="#10b981"/><rect x="226.35" y="155.50" width="2.2" height="23.00" fill="#10b981"/><rect x="229.23" y="155.20" width="2.2" height="1.80" fill="#ef4444"/><rect x="232.12" y="149.50" width="2.2" height="7.00" fill="#10b981"/><rect x="235.01" y="149.60" width="2.2" height="2.80" fill="#ef4444"/><rect x="237.90" y="153.00" width="2.2" height="4.00" fill="#ef4444"/><rect x="240.78" y="149.80" width="2.2" height="7.20" fill="#10b981"/><rect x="243.67" y="152.20" width="2.2" height="2.30" fill="#ef4444"/><rect x="246.56" y="152.80" width="2.2" height="2.20" fill="#10b981"/><rect x="249.44" y="153.30" width="2.2" height="1.30" fill="#ef4444"/><rect x="252.33" y="155.20" width="2.2" height="1.30" fill="#ef4444"/><rect x="255.22" y="143.50" width="2.2" height="11.50" fill="#10b981"/><rect x="258.11" y="141.50" width="2.2" height="5.50" fill="#ef4444"/><rect x="260.99" y="141.50" width="2.2" height="5.00" fill="#10b981"/><rect x="263.88" y="132.00" width="2.2" height="10.30" fill="#10b981"/><rect x="266.77" y="123.50" width="2.2" height="9.00" fill="#10b981"/><rect x="269.65" y="124.20" width="2.2" height="15.60" fill="#ef4444"/><rect x="272.54" y="139.00" width="2.2" height="0.90" fill="#10b981"/><rect x="275.43" y="133.50" width="2.2" height="5.00" fill="#10b981"/><rect x="278.31" y="132.60" width="2.2" height="1.00" fill="#10b981"/><rect x="281.20" y="132.50" width="2.2" height="6.50" fill="#ef4444"/><rect x="284.09" y="133.50" width="2.2" height="8.00" fill="#ef4444"/><rect x="286.98" y="135.50" width="2.2" height="11.50" fill="#ef4444"/><rect x="289.86" y="144.50" width="2.2" height="9.00" fill="#ef4444"/><rect x="292.75" y="150.50" width="2.2" height="3.00" fill="#10b981"/><rect x="295.64" y="146.50" width="2.2" height="5.50" fill="#10b981"/><rect x="298.52" y="146.20" width="2.2" height="2.30" fill="#10b981"/><rect x="301.41" y="145.60" width="2.2" height="1.20" fill="#ef4444"/><rect x="304.30" y="147.00" width="2.2" height="2.50" fill="#ef4444"/><rect x="307.18" y="146.00" width="2.2" height="16.00" fill="#ef4444"/><rect x="310.07" y="149.00" width="2.2" height="14.00" fill="#10b981"/><rect x="312.96" y="146.50" width="2.2" height="5.50" fill="#10b981"/><rect x="315.85" y="144.00" width="2.2" height="4.50" fill="#10b981"/><rect x="318.73" y="129.00" width="2.2" height="18.00" fill="#10b981"/><rect x="321.62" y="129.20" width="2.2" height="1.00" fill="#10b981"/><rect x="324.51" y="129.50" width="2.2" height="6.00" fill="#ef4444"/><rect x="327.39" y="135.50" width="2.2" height="11.00" fill="#ef4444"/><rect x="330.28" y="145.20" width="2.2" height="1.30" fill="#10b981"/><rect x="333.17" y="145.00" width="2.2" height="6.00" fill="#ef4444"/><rect x="336.05" y="145.50" width="2.2" height="4.50" fill="#10b981"/><rect x="338.94" y="142.00" width="2.2" height="6.50" fill="#10b981"/><rect x="341.83" y="142.50" width="2.2" height="8.00" fill="#ef4444"/><rect x="344.72" y="147.50" width="2.2" height="6.50" fill="#10b981"/><rect x="347.60" y="149.00" width="2.2" height="3.50" fill="#ef4444"/><rect x="350.49" y="150.50" width="2.2" height="8.00" fill="#ef4444"/><rect x="353.38" y="156.00" width="2.2" height="4.00" fill="#ef4444"/><rect x="356.26" y="160.00" width="2.2" height="4.00" fill="#ef4444"/><rect x="359.15" y="148.00" width="2.2" height="16.00" fill="#10b981"/><rect x="362.04" y="145.00" width="2.2" height="4.00" fill="#10b981"/><rect x="364.93" y="138.00" width="2.2" height="7.00" fill="#10b981"/><rect x="367.81" y="137.50" width="2.2" height="5.00" fill="#ef4444"/><rect x="370.70" y="139.50" width="2.2" height="3.50" fill="#10b981"/><rect x="373.59" y="140.00" width="2.2" height="1.80" fill="#10b981"/><rect x="376.47" y="136.50" width="2.2" height="4.00" fill="#10b981"/><rect x="379.36" y="135.50" width="2.2" height="5.00" fill="#ef4444"/><rect x="382.25" y="140.00" width="2.2" height="7.50" fill="#ef4444"/><rect x="385.13" y="132.00" width="2.2" height="16.00" fill="#10b981"/><rect x="388.02" y="131.50" width="2.2" height="3.50" fill="#10b981"/><rect x="390.91" y="132.00" width="2.2" height="6.00" fill="#ef4444"/><rect x="393.80" y="137.20" width="2.2" height="1.30" fill="#10b981"/><rect x="396.68" y="132.50" width="2.2" height="5.50" fill="#10b981"/><rect x="399.57" y="132.50" width="2.2" height="5.00" fill="#ef4444"/><rect x="402.46" y="134.50" width="2.2" height="3.00" fill="#10b981"/><rect x="405.34" y="126.00" width="2.2" height="10.00" fill="#10b981"/><rect x="408.23" y="108.00" width="2.2" height="19.50" fill="#10b981"/><rect x="411.12" y="102.50" width="2.2" height="7.50" fill="#10b981"/><rect x="414.00" y="100.00" width="2.2" height="4.00" fill="#ef4444"/><rect x="416.89" y="95.50" width="2.2" height="7.30" fill="#10b981"/><rect x="419.78" y="93.50" width="2.2" height="3.30" fill="#10b981"/><rect x="422.67" y="94.00" width="2.2" height="7.00" fill="#ef4444"/><rect x="425.55" y="98.80" width="2.2" height="1.50" fill="#10b981"/><rect x="428.44" y="96.70" width="2.2" height="1.10" fill="#10b981"/><rect x="431.33" y="96.40" width="2.2" height="4.10" fill="#ef4444"/><rect x="434.21" y="100.50" width="2.2" height="1.00" fill="#ef4444"/><rect x="437.10" y="100.80" width="2.2" height="1.20" fill="#ef4444"/><rect x="439.99" y="102.70" width="2.2" height="1.80" fill="#10b981"/><rect x="442.87" y="92.50" width="2.2" height="11.00" fill="#10b981"/><rect x="445.76" y="93.10" width="2.2" height="4.80" fill="#ef4444"/><rect x="448.65" y="97.70" width="2.2" height="0.90" fill="#ef4444"/><rect x="451.54" y="99.00" width="2.2" height="2.60" fill="#ef4444"/><rect x="454.42" y="100.90" width="2.2" height="1.10" fill="#10b981"/><rect x="457.31" y="94.50" width="2.2" height="6.00" fill="#10b981"/><rect x="460.20" y="94.50" width="2.2" height="7.00" fill="#ef4444"/><rect x="463.08" y="96.00" width="2.2" height="1.00" fill="#ef4444"/><rect x="465.97" y="100.80" width="2.2" height="1.00" fill="#ef4444"/><rect x="468.86" y="101.00" width="2.2" height="8.40" fill="#ef4444"/><rect x="471.75" y="108.50" width="2.2" height="9.70" fill="#ef4444"/><rect x="474.63" y="118.00" width="2.2" height="4.50" fill="#ef4444"/><rect x="477.52" y="114.50" width="2.2" height="7.00" fill="#10b981"/><rect x="480.41" y="111.50" width="2.2" height="3.00" fill="#10b981"/><rect x="483.29" y="111.50" width="2.2" height="3.50" fill="#ef4444"/><rect x="486.18" y="112.00" width="2.2" height="3.00" fill="#10b981"/><rect x="489.07" y="102.50" width="2.2" height="9.50" fill="#10b981"/><rect x="491.95" y="102.50" width="2.2" height="3.80" fill="#ef4444"/><rect x="494.84" y="101.50" width="2.2" height="5.00" fill="#ef4444"/><rect x="497.73" y="96.00" width="2.2" height="10.00" fill="#10b981"/><rect x="500.62" y="96.50" width="2.2" height="3.00" fill="#ef4444"/><rect x="503.50" y="92.50" width="2.2" height="5.50" fill="#10b981"/><rect x="506.39" y="80.00" width="2.2" height="14.00" fill="#10b981"/><rect x="509.28" y="80.50" width="2.2" height="18.50" fill="#ef4444"/><rect x="512.16" y="99.50" width="2.2" height="4.50" fill="#ef4444"/><rect x="515.05" y="101.50" width="2.2" height="2.30" fill="#10b981"/><rect x="517.94" y="100.20" width="2.2" height="3.60" fill="#10b981"/><rect x="520.82" y="102.50" width="2.2" height="4.50" fill="#ef4444"/><rect x="523.71" y="106.00" width="2.2" height="13.50" fill="#ef4444"/><rect x="526.60" y="114.00" width="2.2" height="7.00" fill="#10b981"/><rect x="529.49" y="114.00" width="2.2" height="8.00" fill="#ef4444"/><rect x="532.37" y="103.50" width="2.2" height="17.50" fill="#10b981"/><rect x="535.26" y="104.50" width="2.2" height="5.50" fill="#ef4444"/><rect x="538.15" y="109.50" width="2.2" height="8.00" fill="#ef4444"/><rect x="541.03" y="117.20" width="2.2" height="12.80" fill="#ef4444"/><rect x="543.92" y="122.50" width="2.2" height="7.50" fill="#10b981"/><rect x="546.81" y="123.50" width="2.2" height="2.50" fill="#ef4444"/><rect x="549.69" y="120.50" width="2.2" height="6.00" fill="#10b981"/><rect x="552.58" y="121.00" width="2.2" height="15.50" fill="#ef4444"/><rect x="555.47" y="135.00" width="2.2" height="1.50" fill="#10b981"/><rect x="558.36" y="134.50" width="2.2" height="2.50" fill="#ef4444"/><rect x="561.24" y="131.50" width="2.2" height="7.00" fill="#10b981"/><rect x="564.13" y="125.00" width="2.2" height="8.50" fill="#10b981"/><rect x="567.02" y="121.50" width="2.2" height="3.50" fill="#10b981"/><rect x="569.90" y="123.00" width="2.2" height="6.50" fill="#ef4444"/><rect x="572.79" y="127.50" width="2.2" height="2.00" fill="#ef4444"/><rect x="575.68" y="126.50" width="2.2" height="3.50" fill="#ef4444"/><rect x="578.57" y="125.00" width="2.2" height="4.00" fill="#10b981"/><rect x="581.45" y="122.50" width="2.2" height="3.50" fill="#10b981"/><rect x="584.34" y="122.50" width="2.2" height="2.50" fill="#ef4444"/><rect x="587.23" y="115.00" width="2.2" height="11.00" fill="#10b981"/><rect x="590.11" y="110.50" width="2.2" height="6.00" fill="#10b981"/><rect x="593.00" y="107.60" width="2.2" height="2.00" fill="#10b981"/><rect x="595.89" y="107.50" width="2.2" height="1.70" fill="#ef4444"/><rect x="598.77" y="108.00" width="2.2" height="2.50" fill="#ef4444"/><rect x="601.66" y="105.50" width="2.2" height="7.50" fill="#10b981"/><rect x="604.55" y="105.00" width="2.2" height="7.00" fill="#10b981"/><rect x="607.44" y="104.50" width="2.2" height="1.00" fill="#ef4444"/><rect x="610.32" y="103.50" width="2.2" height="3.50" fill="#10b981"/><rect x="613.21" y="102.80" width="2.2" height="6.70" fill="#ef4444"/><rect x="616.10" y="108.00" width="2.2" height="2.00" fill="#10b981"/><rect x="618.98" y="109.00" width="2.2" height="1.50" fill="#ef4444"/><rect x="621.87" y="110.60" width="2.2" height="10.00" fill="#ef4444"/><rect x="624.76" y="120.00" width="2.2" height="3.00" fill="#ef4444"/><rect x="627.64" y="118.20" width="2.2" height="4.40" fill="#10b981"/><rect x="630.53" y="117.80" width="2.2" height="15.20" fill="#ef4444"/><rect x="633.42" y="132.00" width="2.2" height="1.30" fill="#10b981"/><rect x="636.31" y="131.50" width="2.2" height="2.00" fill="#ef4444"/><rect x="639.19" y="122.50" width="2.2" height="10.00" fill="#10b981"/><rect x="642.08" y="114.50" width="2.2" height="7.50" fill="#10b981"/><rect x="644.97" y="113.00" width="2.2" height="3.20" fill="#ef4444"/><rect x="647.85" y="98.50" width="2.2" height="16.50" fill="#10b981"/><rect x="650.74" y="90.00" width="2.2" height="9.00" fill="#10b981"/><rect x="653.63" y="85.00" width="2.2" height="6.00" fill="#10b981"/><rect x="656.52" y="83.50" width="2.2" height="3.00" fill="#10b981"/><rect x="659.40" y="80.00" width="2.2" height="4.50" fill="#10b981"/><rect x="662.29" y="76.00" width="2.2" height="4.00" fill="#10b981"/><rect x="665.18" y="74.50" width="2.2" height="13.30" fill="#ef4444"/><rect x="668.06" y="78.00" width="2.2" height="10.80" fill="#10b981"/><rect x="670.95" y="79.50" width="2.2" height="7.50" fill="#ef4444"/><rect x="673.84" y="87.00" width="2.2" height="33.00" fill="#ef4444"/><rect x="676.72" y="118.00" width="2.2" height="9.80" fill="#ef4444"/><rect x="679.61" y="112.00" width="2.2" height="15.80" fill="#10b981"/><rect x="682.50" y="110.80" width="2.2" height="1.40" fill="#10b981"/><rect x="685.39" y="111.00" width="2.2" height="7.50" fill="#ef4444"/><rect x="688.27" y="117.50" width="2.2" height="12.00" fill="#ef4444"/><rect x="691.16" y="123.50" width="2.2" height="13.50" fill="#ef4444"/><rect x="694.05" y="133.50" width="2.2" height="10.00" fill="#ef4444"/><rect x="696.93" y="140.50" width="2.2" height="3.00" fill="#10b981"/><rect x="699.82" y="133.00" width="2.2" height="7.50" fill="#10b981"/><rect x="702.71" y="128.00" width="2.2" height="8.80" fill="#10b981"/><rect x="705.59" y="128.30" width="2.2" height="8.70" fill="#ef4444"/><rect x="708.48" y="136.70" width="2.2" height="2.80" fill="#ef4444"/><rect x="711.37" y="129.50" width="2.2" height="10.00" fill="#10b981"/><rect x="714.26" y="126.00" width="2.2" height="4.00" fill="#10b981"/><rect x="717.14" y="124.00" width="2.2" height="3.00" fill="#10b981"/><rect x="720.03" y="113.00" width="2.2" height="11.50" fill="#10b981"/><rect x="722.92" y="107.00" width="2.2" height="8.00" fill="#ef4444"/><rect x="725.80" y="115.00" width="2.2" height="6.00" fill="#ef4444"/><rect x="728.69" y="120.00" width="2.2" height="10.00" fill="#ef4444"/><rect x="731.58" y="130.50" width="2.2" height="6.00" fill="#ef4444"/><rect x="734.46" y="132.00" width="2.2" height="4.50" fill="#10b981"/><rect x="737.35" y="129.50" width="2.2" height="2.50" fill="#10b981"/><rect x="740.24" y="128.00" width="2.2" height="2.00" fill="#10b981"/><rect x="743.13" y="128.50" width="2.2" height="14.50" fill="#ef4444"/><rect x="746.01" y="141.50" width="2.2" height="20.00" fill="#ef4444"/><rect x="748.90" y="151.50" width="2.2" height="10.00" fill="#10b981"/></g></g>
<g stroke="#0f172a" stroke-width="1.8" fill="none"><path d="M60 68.85 V263.65"/></g><path d="M59.1 339.72 H750.9" stroke="#0f172a" stroke-width="1.7" fill="none"/>
<g stroke="#0f172a" stroke-width="1.8"><line x1="54" x2="60" y1="69.75" y2="69.75"/><line x1="54" x2="60" y1="108.35" y2="108.35"/><line x1="54" x2="60" y1="146.95" y2="146.95"/><line x1="54" x2="60" y1="185.55" y2="185.55"/><line x1="54" x2="60" y1="224.15" y2="224.15"/><line x1="54" x2="60" y1="262.75" y2="262.75"/><line x1="60.00" x2="60.00" y1="339.7" y2="343.85"/><line x1="175.48" x2="175.48" y1="339.7" y2="343.85"/><line x1="290.96" x2="290.96" y1="339.7" y2="343.85"/><line x1="406.44" x2="406.44" y1="339.7" y2="343.85"/><line x1="519.04" x2="519.04" y1="339.7" y2="343.85"/><line x1="634.52" x2="634.52" y1="339.7" y2="343.85"/><line x1="750.00" x2="750.00" y1="339.7" y2="343.85"/></g>
<g font-size="12" fill="#1f2937"><text x="51.25" y="73.30" text-anchor="end">126 200 $</text><text x="51.25" y="111.90" text-anchor="end">115 861 $</text><text x="51.25" y="150.50" text-anchor="end">105 523 $</text><text x="51.25" y="189.10" text-anchor="end">95 185 $</text><text x="51.25" y="227.70" text-anchor="end">84 846 $</text><text x="51.25" y="266.30" text-anchor="end">74 508 $</text></g>
<g font-size="12" fill="#1f2937"><text x="60.00" y="356" text-anchor="middle">2025-03</text><text x="175.48" y="356" text-anchor="middle">2025-04</text><text x="290.96" y="356" text-anchor="middle">2025-05</text><text x="406.44" y="356" text-anchor="middle">2025-07</text><text x="519.04" y="356" text-anchor="middle">2025-08</text><text x="634.52" y="356" text-anchor="middle">2025-09</text><text x="750.00" y="356" text-anchor="middle">2025-11</text></g>
<text x="60" y="380" font-size="12" fill="#4b5563">График с техническими индикаторами</text>
</svg></body></html>
